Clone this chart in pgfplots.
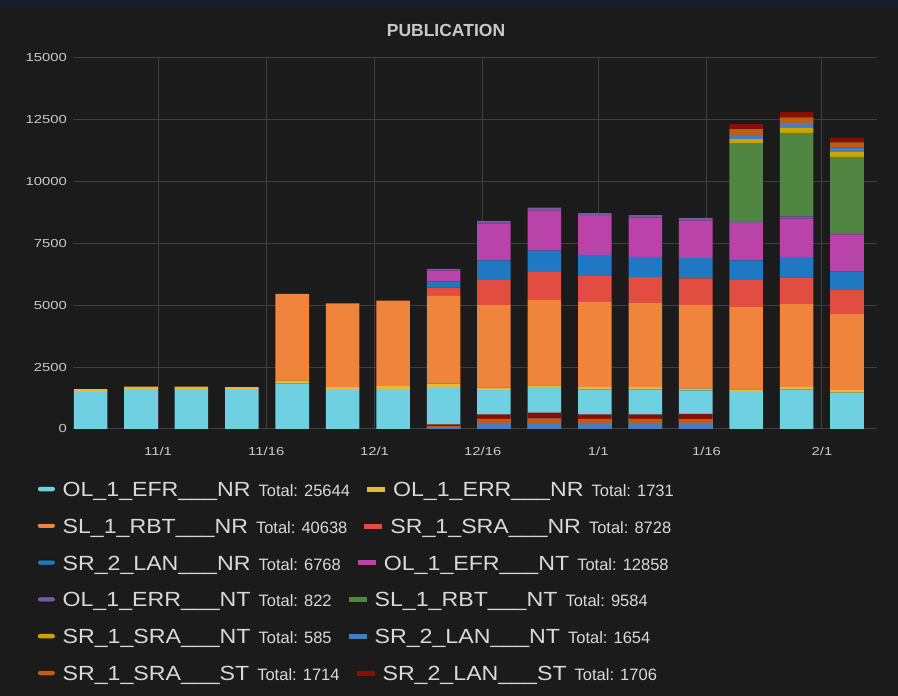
\documentclass[border=0pt]{standalone}
\usepackage{pgfplots}
\pgfplotsset{compat=1.18}
\usepackage{pgfplotstable}
\usepackage{fontspec}
\setmainfont{Liberation Sans}
\newfontfamily\namefont{Liberation Sans}[FakeStretch=1.13]
\newfontfamily\tickfont{Liberation Sans}[FakeStretch=1.28]
\definecolor{bgc}{HTML}{1B1B1B}
\definecolor{topc}{HTML}{141D29}
\definecolor{gridc}{HTML}{3F3F3F}
\definecolor{txtc}{HTML}{D8D9DA}
\definecolor{tickc}{HTML}{C8C9CA}
\definecolor{titc}{HTML}{C8C9CA}
\definecolor{s1}{HTML}{6ED0E0}
\definecolor{s2}{HTML}{EAB839}
\definecolor{s3}{HTML}{EF843C}
\definecolor{s4}{HTML}{E24D42}
\definecolor{s5}{HTML}{1F78C1}
\definecolor{s6}{HTML}{BA43A9}
\definecolor{s7}{HTML}{705DA0}
\definecolor{s8}{HTML}{508642}
\definecolor{s9}{HTML}{CCA300}
\definecolor{s10}{HTML}{447EBC}
\definecolor{s11}{HTML}{C15C17}
\definecolor{s12}{HTML}{890F02}

\pgfplotstableread{
x c1 c2 c3 c4 c5 c6 c7 c8 c9 c10 c11 c12 o10 o11 o12
-9.35 1495 120 0 0 0 0 0 0 0 0 0 0 0 0 0
-2.36 1615 100 0 0 0 0 0 0 0 0 0 0 0 0 0
4.62 1615 100 0 0 0 0 0 0 0 0 0 0 0 0 0
11.61 1585 110 0 0 0 0 0 0 0 0 0 0 0 0 0
18.60 1835 135 3495 0 0 0 0 0 0 0 0 0 0 0 0
25.59 1585 110 3380 0 0 0 0 0 0 0 0 0 0 0 0
32.58 1615 120 3460 0 0 0 0 0 0 0 0 0 0 0 0
39.57 1695 135 3550 340 245 445 60 0 0 0 0 0 40 80 70
46.55 1585 90 3330 1010 800 1490 105 0 0 0 0 0 210 195 185
53.54 1695 70 3480 1110 855 1630 115 0 0 0 0 0 210 210 245
60.53 1595 105 3440 1050 855 1565 115 0 0 0 0 0 210 200 180
67.52 1595 105 3390 1050 815 1595 100 0 0 0 0 0 210 200 180
74.51 1565 80 3375 1065 825 1525 100 0 0 0 0 0 210 185 220
81.50 1495 110 3335 1080 800 1510 85 3120 180 175 230 205 0 0 0
88.48 1595 105 3350 1080 825 1550 90 3380 200 205 215 230 0 0 0
95.47 1470 110 3065 975 748 1500 52 3084 205 175 200 190 0 0 0
}\data

\newcommand{\nm}[1]{{\namefont\fontsize{20.5}{22}\selectfont #1}}
\newcommand{\tot}[1]{{\fontsize{16.5}{18}\selectfont Total: #1}}
\newcommand{\legrow}[5]{\nm{#1}\hspace{8pt}\tot{#2}\hspace{17pt}\textcolor{#3}{\rule[4.8pt]{18pt}{5pt}}\hspace{8pt}\nm{#4}\hspace{8pt}\tot{#5}}

\pgfplotsset{
  legimg/.style={legend image code/.code={\fill[rounded corners=2.4pt] (0pt,0pt) rectangle (18pt,5pt);}},
  baseax/.style={at={(73pt,267pt)}, anchor=south west, scale only axis,
    width=804pt, height=371pt,
    xmin=-11.78, xmax=99.63, ymin=0, ymax=15000,
    ybar stacked, bar width=4.65},
}

\begin{document}
\begin{tikzpicture}
\fill[bgc] (0,0) rectangle (898pt,696pt);
\fill[topc] (0,688pt) rectangle (898pt,696pt);
\path[use as bounding box] (0,0) rectangle (898pt,696pt);
\node[font=\bfseries\fontsize{17.5}{17.5}\selectfont, text=titc] at (446pt,666pt) {PUBLICATION};
\begin{axis}[
  baseax,
  xtick={0,15,30,45,61,76,92},
  xticklabels={11/1,11/16,12/1,12/16,1/1,1/16,2/1},
  ytick={0,2500,5000,7500,10000,12500,15000},
  scaled y ticks=false,
  grid=major, major grid style={gridc, line width=1pt},
  axis line style={draw=none}, major tick length=0pt,
  ticklabel style={font=\tickfont\fontsize{11.6}{11.6}\selectfont, text=tickc},
  /pgf/number format/assume math mode=true,
  /pgf/number format/1000 sep={},
  yticklabel style={/pgf/number format/fixed, xshift=-2.5pt},
  xticklabel style={yshift=-15pt},
  legend columns=1, legend cell align=left,
  legend style={at={(axis description cs:-0.04478,-0.141)}, anchor=north west,
    draw=none, fill=none, inner sep=0pt, row sep=16.8pt, column sep=7pt,
    nodes={inner sep=0pt, text height=15pt, text depth=5pt, text=txtc}},
]
\addplot[fill=s1, draw=none, forget plot] table[x=x,y=c1]{\data};
\addplot[fill=s2, draw=none, forget plot] table[x=x,y=c2]{\data};
\addplot[fill=s3, draw=none, forget plot] table[x=x,y=c3]{\data};
\addplot[fill=s4, draw=none, forget plot] table[x=x,y=c4]{\data};
\addplot[fill=s5, draw=none, forget plot] table[x=x,y=c5]{\data};
\addplot[fill=s6, draw=none, forget plot] table[x=x,y=c6]{\data};
\addplot[fill=s7, draw=none, forget plot] table[x=x,y=c7]{\data};
\addplot[fill=s8, draw=none, forget plot] table[x=x,y=c8]{\data};
\addplot[fill=s9, draw=none, forget plot] table[x=x,y=c9]{\data};
\addplot[fill=s10, draw=none, forget plot] table[x=x,y=c10]{\data};
\addplot[fill=s11, draw=none, forget plot] table[x=x,y=c11]{\data};
\addplot[fill=s12, draw=none, forget plot] table[x=x,y=c12]{\data};
\addlegendimage{legimg, fill=s1}
\addlegendentry{\legrow{OL\_1\_EFR\_\_\_NR}{25644}{s2}{OL\_1\_ERR\_\_\_NR}{1731}}
\addlegendimage{legimg, fill=s3}
\addlegendentry{\legrow{SL\_1\_RBT\_\_\_NR}{40638}{s4}{SR\_1\_SRA\_\_\_NR}{8728}}
\addlegendimage{legimg, fill=s5}
\addlegendentry{\legrow{SR\_2\_LAN\_\_\_NR}{6768}{s6}{OL\_1\_EFR\_\_\_NT}{12858}}
\addlegendimage{legimg, fill=s7}
\addlegendentry{\legrow{OL\_1\_ERR\_\_\_NT}{822}{s8}{SL\_1\_RBT\_\_\_NT}{9584}}
\addlegendimage{legimg, fill=s9}
\addlegendentry{\legrow{SR\_1\_SRA\_\_\_NT}{585}{s10}{SR\_2\_LAN\_\_\_NT}{1654}}
\addlegendimage{legimg, fill=s11}
\addlegendentry{\legrow{SR\_1\_SRA\_\_\_ST}{1714}{s12}{SR\_2\_LAN\_\_\_ST}{1706}}
\end{axis}
\begin{axis}[baseax, hide axis]
\addplot[fill=s10, draw=none] table[x=x,y=o10]{\data};
\addplot[fill=s11, draw=none] table[x=x,y=o11]{\data};
\addplot[fill=s12, draw=none] table[x=x,y=o12]{\data};
\end{axis}
\end{tikzpicture}
\end{document}
